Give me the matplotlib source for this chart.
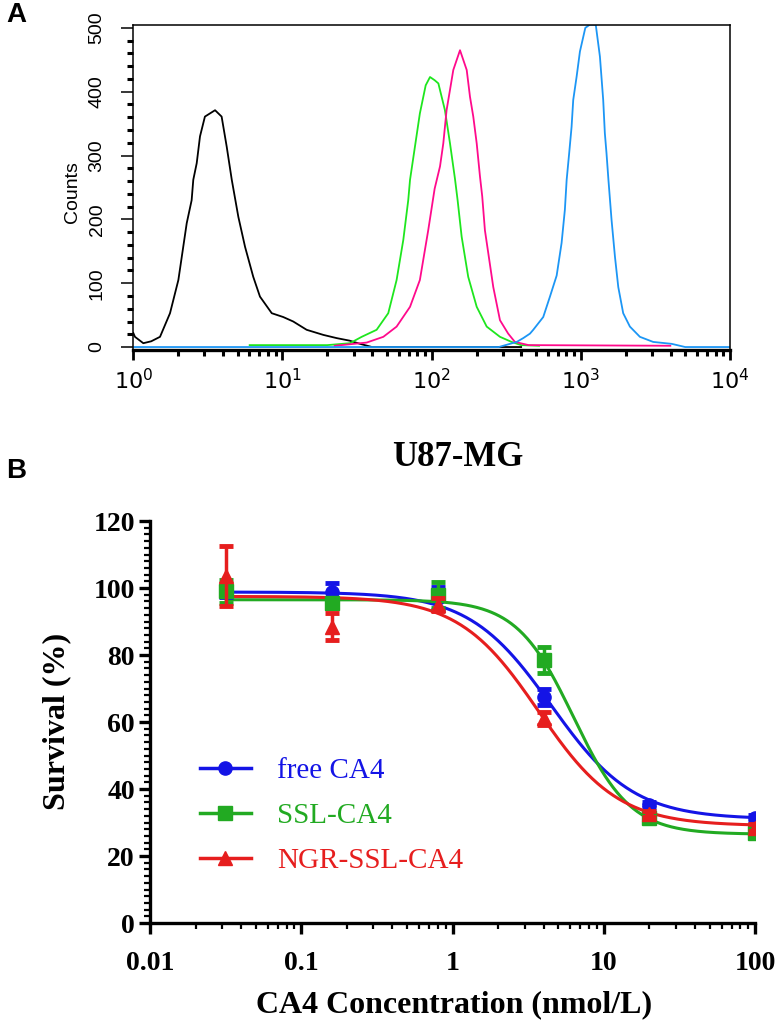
import numpy as np
import matplotlib.pyplot as plt
from matplotlib.ticker import MultipleLocator, FixedLocator, LogLocator, NullFormatter
from matplotlib.lines import Line2D

# ---- panel A: flow cytometry histograms (log10 intensity, counts) ----
black_log = [0.0, 0.011, 0.067, 0.12, 0.179, 0.246, 0.302, 0.358, 0.391, 0.402, 0.425,
             0.447, 0.48, 0.548, 0.592, 0.626, 0.66, 0.704, 0.749, 0.804, 0.849, 0.928,
             1.005, 1.072, 1.162, 1.274, 1.363, 1.45, 1.52, 1.6, 2.6]
black_counts = [22, 16, 6, 9, 16, 53, 105, 194, 230, 262, 288,
                330, 361, 371, 361, 314, 262, 204, 157, 110, 79, 53,
                47, 40, 27, 19, 14, 10, 5, 0, 0]

green_log = [0.78, 1.3, 1.452, 1.531, 1.631, 1.709, 1.765, 1.81, 1.843, 1.855, 1.888,
             1.921, 1.96, 1.989, 2.02, 2.045, 2.089, 2.123, 2.156, 2.174, 2.201, 2.245,
             2.302, 2.369, 2.458, 2.536, 2.6, 2.72]
green_counts = [3, 3, 6, 16, 27, 53, 105, 168, 230, 262, 314,
                366, 410, 423, 418, 413, 371, 319, 264, 230, 173, 110,
                63, 32, 16, 8, 3, 2]

pink_log = [1.35, 1.564, 1.676, 1.765, 1.855, 1.921, 1.977, 2.02, 2.056, 2.078, 2.1,
            2.123, 2.145, 2.19, 2.235, 2.257, 2.279, 2.302, 2.324, 2.339, 2.357, 2.413,
            2.458, 2.513, 2.558, 2.65, 3.6]
pink_counts = [2, 7, 16, 32, 63, 105, 183, 248, 283, 319, 371,
               403, 434, 465, 434, 392, 361, 319, 267, 236, 183, 94,
               42, 21, 8, 3, 2]

blue_log = [0.0, 2.45, 2.57, 2.614, 2.659, 2.681, 2.748, 2.793, 2.838, 2.871, 2.893,
            2.905, 2.922, 2.938, 2.949, 2.972, 2.994, 3.03, 3.06, 3.1, 3.128, 3.15,
            3.161, 3.172, 3.185, 3.206, 3.229, 3.251, 3.284, 3.329, 3.396, 3.485,
            3.609, 3.7, 4.0]
blue_counts = [0, 0, 8, 14, 21, 27, 47, 79, 112, 163, 215,
               262, 304, 345, 387, 424, 463, 500, 505, 505, 455, 387,
               335, 304, 262, 199, 141, 94, 53, 32, 16, 8,
               5, 0, 0]

# ---- panel B: survival curves ----
conc = [0.032, 0.16, 0.8, 4, 20, 100]
free_mean = [98.9, 98.9, 96.9, 67.5, 35.2, 31.2]
free_err = [1.5, 2.5, 3.5, 2.5, 1.0, 1.0]
ssl_mean = [99.0, 95.5, 97.9, 78.5, 31.2, 26.8]
ssl_err = [3.4, 1.5, 4.0, 4.0, 1.0, 1.0]
ngr_mean = [103.5, 88.5, 95.0, 61.1, 32.5, 28.5]
ngr_err = [9.0, 4.0, 2.0, 2.0, 1.0, 1.0]

# four-parameter logistic fit parameters (free, SSL, NGR-SSL)
fit_top = [98.8, 96.5, 97.5]
fit_bottom = [31.0, 26.5, 29.0]
fit_ec50 = [4.5, 6.3, 3.7]
fit_hill = [1.6, 2.3, 1.65]

labels = ['free CA4', 'SSL-CA4', 'NGR-SSL-CA4']
colors = ['#1414e6', '#22aa22', '#e61e1e']
markers = ['o', 's', '^']

sans = ['Liberation Sans Narrow', 'Liberation Sans', 'DejaVu Sans']
serif = ['Liberation Serif', 'DejaVu Serif']

fig = plt.figure(figsize=(7.81, 10.25), dpi=100)

# ================= panel A =================
ax1 = fig.add_axes([0.1707, 0.6585, 0.764, 0.3168])
hist_sets = [(black_log, black_counts, 'black'),
             (green_log, green_counts, '#1ee61e'),
             (pink_log, pink_counts, '#ff0a8c'),
             (blue_log, blue_counts, '#1c96f5')]
for lg, cnt, c in hist_sets:
    ax1.plot(10 ** np.array(lg), cnt, color=c, lw=1.3)

ax1.set_xscale('log')
ax1.set_xlim(1, 1e4)
ax1.set_ylim(-4.7, 504)
ax1.xaxis.set_major_locator(FixedLocator([1, 10, 100, 1000, 10000]))
ax1.xaxis.set_minor_locator(LogLocator(base=10, subs=np.arange(2, 10)))
ax1.xaxis.set_minor_formatter(NullFormatter())
ax1.set_xticklabels([r'$10^{0}$', r'$10^{1}$', r'$10^{2}$', r'$10^{3}$', r'$10^{4}$'])
ax1.set_yticks([0, 100, 200, 300, 400, 500])
ax1.yaxis.set_minor_locator(MultipleLocator(20))
ax1.tick_params(axis='y', which='major', direction='out', length=9, width=1.1,
                pad=11, labelsize=14, labelrotation=90)
ax1.tick_params(axis='y', which='minor', direction='out', length=4, width=2.2)
ax1.tick_params(axis='x', which='major', direction='out', length=7, width=2,
                pad=6, labelsize=16)
ax1.tick_params(axis='x', which='minor', direction='out', length=4, width=2.2)
for lab in ax1.get_yticklabels():
    lab.set_family(sans)
    lab.set_va('center')
for sp in ['left', 'top', 'right']:
    ax1.spines[sp].set_linewidth(1.1)
ax1.spines['bottom'].set_linewidth(2.4)
fig.text(0.093, 0.813, 'Counts', rotation=90, ha='center', va='center',
         fontsize=14, family=sans)
fig.text(0.008, 0.985, 'A', fontsize=20, fontweight='bold', va='center',
         family=['Liberation Sans', 'DejaVu Sans'])

# ================= panel B =================
ax2 = fig.add_axes([0.1921, 0.0995, 0.7747, 0.3922])
xs = np.logspace(np.log10(conc[0]), np.log10(conc[-1]), 400)
series = [(free_mean, free_err), (ssl_mean, ssl_err), (ngr_mean, ngr_err)]
for i in [2, 1, 0]:
    m, e = series[i]
    fit = fit_bottom[i] + (fit_top[i] - fit_bottom[i]) / (1 + (xs / fit_ec50[i]) ** fit_hill[i])
    ax2.plot(xs, fit, color=colors[i], lw=2.2, zorder=2 + i)
    ax2.errorbar(conc, m, yerr=e, fmt=markers[i], color=colors[i], ms=9.5,
                 elinewidth=2.5, capsize=5, capthick=3.5, zorder=3 + i)

ax2.set_xscale('log')
ax2.set_xlim(0.01, 100)
ax2.set_ylim(0, 120)
ax2.xaxis.set_major_locator(FixedLocator([0.01, 0.1, 1, 10, 100]))
ax2.set_xticklabels(['0.01', '0.1', '1', '10', '100'])
ax2.xaxis.set_minor_locator(LogLocator(base=10, subs=np.arange(2, 10)))
ax2.xaxis.set_minor_formatter(NullFormatter())
ax2.set_yticks(range(0, 121, 20))
ax2.yaxis.set_minor_locator(MultipleLocator(2))
for sp in ['top', 'right']:
    ax2.spines[sp].set_visible(False)
for sp in ['left', 'bottom']:
    ax2.spines[sp].set_linewidth(2.4)
ax2.tick_params(which='major', direction='out', length=8, width=2.4, labelsize=20)
ax2.tick_params(axis='x', which='major', pad=12)
ax2.tick_params(axis='y', which='major', pad=3)
ax2.tick_params(which='minor', direction='out', length=4, width=1.6)
for lab in ax2.get_xticklabels() + ax2.get_yticklabels():
    lab.set_family(serif)
    lab.set_fontweight('bold')

handles = [Line2D([], [], color=colors[i], marker=markers[i], ms=9.5, lw=2.5)
           for i in range(3)]
leg = ax2.legend(handles, labels, loc='center left', bbox_to_anchor=(0.256, 0.204),
                 bbox_transform=fig.transFigure, frameon=False, borderpad=0,
                 borderaxespad=0, handlelength=1.75, handletextpad=0.9,
                 labelspacing=0.65, prop={'family': serif, 'size': 21})
for txt, c in zip(leg.get_texts(), colors):
    txt.set_color(c)

fig.text(0.586, 0.554, 'U87-MG', ha='center', va='center', fontsize=25,
         fontweight='bold', family=serif)
fig.text(0.581, 0.02, 'CA4 Concentration (nmol/L)', ha='center', va='center',
         fontsize=23, fontweight='bold', family=serif)
fig.text(0.0726, 0.296, 'Survival (%)', rotation=90, ha='center', va='center',
         fontsize=23, fontweight='bold', family=serif)
fig.text(0.008, 0.54, 'B', fontsize=20, fontweight='bold', va='center',
         family=['Liberation Sans', 'DejaVu Sans'])

fig.savefig('out.png', dpi=100)
